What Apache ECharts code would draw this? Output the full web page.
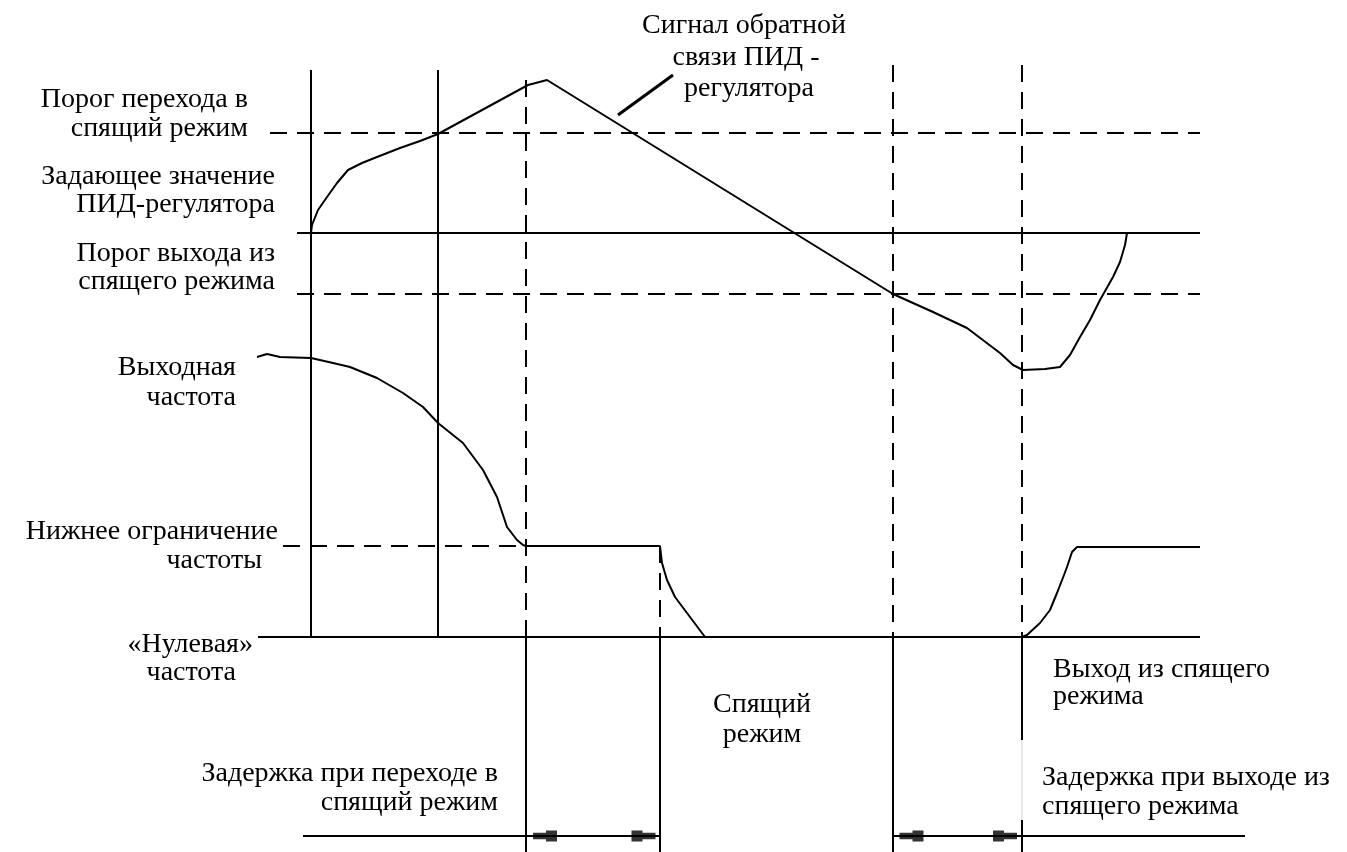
<!DOCTYPE html>
<html>
<head>
<meta charset="utf-8">
<script src="https://cdn.jsdelivr.net/npm/echarts@6/dist/echarts.min.js"></script>
<style>
  html, body { margin: 0; padding: 0; background: #fff; }
  #chart { width: 1347px; height: 852px; }
</style>
</head>
<body>
<div id="chart"></div>
<script>
// ---- Sleep / wake timing of the PID regulator (arbitrary time and level units) ----

// Event times: start, sleep threshold crossed, min frequency reached, sleep, wake threshold crossed, wake
const eventTimes = [0, 12.7, 21.5, 34.9, 58.2, 71.1];
const lineEndTime = 88.9;

// Levels: sleep threshold, PID setpoint, wake threshold, lower frequency limit, zero frequency, delay timeline
const levelValues = [50.4, 40.4, 34.3, 9.1, 0, -19.9];

// Start of each reference line on the left
const levelStartTimes = [-4.1, -1.4, -1.4, -2.8, -5.3, -0.8];

// Top of the vertical event markers and bottom of the drawing
const markerTops = [56.7, 56.7, 55.7, 9.1, 57.2, 57.2];
const drawingBottom = -21.5;

// PID feedback signal
const feedbackSignal = [
  [0, 40.4], [0.1, 41.2], [0.7, 42.7], [1.6, 44.0], [2.6, 45.4], [3.7, 46.7],
  [5.1, 47.4], [6.6, 48.0], [8.9, 48.9], [10.9, 49.6], [12.7, 50.3],
  [21.7, 55.2], [23.6, 55.7], [58.2, 34.3], [62.2, 32.5], [65.6, 30.9],
  [68.9, 28.4], [70.2, 27.2], [71.2, 26.7], [73.4, 26.8], [74.9, 27.0],
  [75.9, 28.2], [76.9, 30.0], [77.9, 31.7], [78.9, 33.7], [80.2, 36.0],
  [80.9, 37.5], [81.4, 39.2], [81.6, 40.4]
];

// Output frequency of the drive
const outputFrequency = [
  [-5.4, 28.0], [-4.4, 28.3], [-3.1, 28.0], [0, 27.9], [2.2, 27.4], [3.9, 27.0],
  [6.6, 25.9], [9.2, 24.4], [11.2, 23.0], [12.7, 21.4], [15.2, 19.4],
  [17.2, 16.7], [18.6, 14.0], [19.6, 11.0], [20.6, 9.7], [21.2, 9.2],
  [21.5, 9.1], [34.9, 9.1], [35.1, 7.4], [35.6, 5.7], [36.4, 4.0],
  [37.9, 2.0], [39.4, 0], [71.1, 0], [71.6, 0.2], [72.9, 1.4], [73.9, 2.7],
  [74.6, 4.4], [75.3, 6.2], [75.6, 7.0], [76.1, 8.5], [76.6, 9.0], [88.9, 9.0]
];

// Arrow heads on the delay timeline
const leftHeadTimes = [23.4, 60.05];
const rightHeadTimes = [33.25, 69.4];
const timelineEndTime = 93.4;

// Label of the feedback curve: leader line
const leaderLine = [[30.7, 52.2], [36.2, 56.2]];

// Gap in the wake marker behind the wake-delay caption
const captionGap = [-10.3, -18.3];

const INK = '#000';
const DASH = [17, 10];
const FONT = '28px "Liberation Serif", "Times New Roman", serif';

function seg(points, dashed, width) {
  return {
    type: 'line',
    data: points,
    showSymbol: false,
    symbol: 'none',
    silent: true,
    clip: false,
    smooth: false,
    lineStyle: { color: INK, width: width || 2, type: dashed ? DASH : 'solid', cap: 'butt' },
    z: 3
  };
}

const series = [];

// Horizontal reference lines
const [sleepLvl, setLvl, wakeLvl, fminLvl, zeroLvl, tlLvl] = levelValues;
series.push(seg([[levelStartTimes[0], sleepLvl], [lineEndTime, sleepLvl]], true));
series.push(seg([[levelStartTimes[1], setLvl], [lineEndTime, setLvl]], false));
series.push(seg([[levelStartTimes[2], wakeLvl], [lineEndTime, wakeLvl]], true));
series.push(seg([[levelStartTimes[3], fminLvl], [eventTimes[2], fminLvl]], true));
series.push(seg([[levelStartTimes[4], zeroLvl], [lineEndTime, zeroLvl]], false));

// Delay timelines
series.push(seg([[levelStartTimes[5], tlLvl], [eventTimes[3], tlLvl]], false));
series.push(seg([[eventTimes[4], tlLvl], [timelineEndTime, tlLvl]], false));

// Vertical event markers: the first two solid, the others dashed above zero and solid below
eventTimes.forEach((t, i) => {
  if (i < 2) {
    series.push(seg([[t, markerTops[i]], [t, zeroLvl]], false));
  } else {
    series.push(seg([[t, markerTops[i]], [t, zeroLvl]], true));
    if (i === 5) {
      series.push(seg([[t, zeroLvl], [t, captionGap[0]]], false));
      series.push(seg([[t, captionGap[1]], [t, drawingBottom]], false));
    } else {
      series.push(seg([[t, zeroLvl], [t, drawingBottom]], false));
    }
  }
});

// Faint edge of the wake-delay caption box
series.push({
  type: 'line', data: [[eventTimes[5], captionGap[0]], [eventTimes[5], captionGap[1]]],
  showSymbol: false, symbol: 'none', silent: true, clip: false,
  lineStyle: { color: '#cfcfcf', width: 1 }, z: 2
});

// Curves
series.push(seg(feedbackSignal, false, 2));
series.push(seg(outputFrequency, false, 2));
series.push(seg(leaderLine, false, 3));

// Arrow heads
const headLeft = 'path://M0,2 L13,2 L13,0 L24,0 L24,10 L13,10 L13,8 L0,8 Z';
const headRight = 'path://M0,0 L11,0 L11,2 L24,2 L24,8 L11,8 L11,10 L0,10 Z';
series.push({
  type: 'scatter', silent: true, symbol: headLeft, symbolSize: [24, 11],
  itemStyle: { color: INK }, data: leftHeadTimes.map(t => [t, tlLvl]), z: 4
});
series.push({
  type: 'scatter', silent: true, symbol: headRight, symbolSize: [24, 11],
  itemStyle: { color: INK }, data: rightHeadTimes.map(t => [t, tlLvl]), z: 4
});

// Captions
function label(text, x, y, align) {
  return {
    type: 'text', x: x, y: y, silent: true, z: 10,
    style: {
      text: text, font: FONT, fill: INK,
      align: align, textAlign: align,
      verticalAlign: 'middle', textVerticalAlign: 'middle'
    }
  };
}

const captions = [
  label('Сигнал обратной', 744, 26, 'center'),
  label('связи ПИД -', 746, 58, 'center'),
  label('регулятора', 749, 89, 'center'),
  label('Порог перехода в', 248, 100, 'right'),
  label('спящий режим', 248, 129, 'right'),
  label('Задающее значение', 275, 177, 'right'),
  label('ПИД-регулятора', 275, 205, 'right'),
  label('Порог выхода из', 275, 254, 'right'),
  label('спящего режима', 275, 282, 'right'),
  label('Выходная', 236, 368, 'right'),
  label('частота', 236, 398, 'right'),
  label('Нижнее ограничение', 278, 532, 'right'),
  label('частоты', 262, 561, 'right'),
  label('«Нулевая»', 253, 645, 'right'),
  label('частота', 236, 673, 'right'),
  label('Спящий', 762, 705, 'center'),
  label('режим', 762, 735, 'center'),
  label('Выход из спящего', 1053, 670, 'left'),
  label('режима', 1053, 697, 'left'),
  label('Задержка при переходе в', 498, 774, 'right'),
  label('спящий режим', 498, 803, 'right'),
  label('Задержка при выходе из', 1042, 778, 'left'),
  label('спящего режима', 1042, 807, 'left')
];

const chart = echarts.init(document.getElementById('chart'), null, { renderer: 'canvas' });
chart.setOption({
  animation: false,
  backgroundColor: '#fff',
  grid: { left: 0, right: 0, top: 0, bottom: 0 },
  xAxis: { type: 'value', min: -31.1, max: 103.6, show: false },
  yAxis: { type: 'value', min: -21.5, max: 63.7, show: false },
  series: series,
  graphic: { elements: captions }
});
</script>
</body>
</html>
